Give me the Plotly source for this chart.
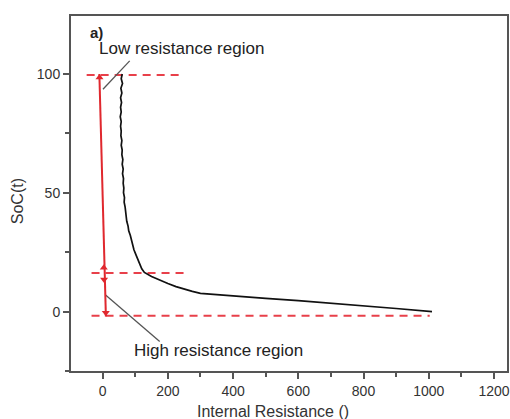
import plotly.graph_objects as go

# Measured curve: SoC vs internal resistance
res = [60, 57, 61, 56, 59, 55, 58, 55, 57, 54, 57, 55, 57, 56, 59, 57, 60, 59, 62, 60, 63,
       61, 64, 63, 65, 64, 67, 66, 69, 70, 73, 74, 78, 80, 85, 88, 93, 96, 102, 107, 114,
       120, 128, 150, 175, 200, 225, 250, 275, 300, 350, 400, 500, 600, 700, 800, 900, 1010]
soc = [100, 98, 96, 94, 92, 90, 88, 86, 84, 82, 80, 78, 76, 74, 72, 70, 68, 66, 64, 62, 60,
       58, 56, 54, 52, 50, 48, 46, 44, 42, 40, 38, 36, 34, 32, 30, 28, 26, 24, 22, 20,
       18, 16.5, 14.8, 13.2, 11.8, 10.5, 9.4, 8.5, 7.7, 7.1, 6.5, 5.6, 4.6, 3.6, 2.5, 1.3, 0]

# Red arrow line
red_x = [-10, 10]
red_y = [100, -2]
arrow_x = [-9.6, 3.6, 4.4, 9.7]
arrow_y = [98.5, 18.5, 13.5, -0.5]
arrow_sym = ["triangle-up", "triangle-up", "triangle-down", "triangle-down"]

# Dashed reference levels: (x start, x end, SoC)
dash_levels = [(-49, 248, 99.6), (-34, 266, 16.2), (-34, 1003, -1.7)]

# Pointer lines for labels
low_ptr_x = [83, 1]
low_ptr_y = [105.5, 93.6]
high_ptr_x = [9, 175]
high_ptr_y = [7, -12.6]

x_ticks = [0, 200, 400, 600, 800, 1000, 1200]
y_ticks = [0, 50, 100]

fig = go.Figure()

for x0, x1, lvl in dash_levels:
    fig.add_trace(go.Scatter(x=[x0, x1], y=[lvl, lvl], mode="lines",
                             line=dict(color="#e8404a", width=2, dash="8px,6px"),
                             showlegend=False, hoverinfo="skip"))

fig.add_trace(go.Scatter(x=low_ptr_x, y=low_ptr_y, mode="lines",
                         line=dict(color="#555555", width=1.3), showlegend=False))
fig.add_trace(go.Scatter(x=high_ptr_x, y=high_ptr_y, mode="lines",
                         line=dict(color="#555555", width=1.3), showlegend=False))

fig.add_trace(go.Scatter(x=red_x, y=red_y, mode="lines",
                         line=dict(color="#e0282e", width=2), showlegend=False))
fig.add_trace(go.Scatter(x=arrow_x, y=arrow_y, mode="markers",
                         marker=dict(symbol=arrow_sym, size=7, color="#e0282e"),
                         showlegend=False))

fig.add_trace(go.Scatter(x=res, y=soc, mode="lines",
                         line=dict(color="#111111", width=1.7), showlegend=False))

axis_common = dict(showgrid=False, zeroline=False, showline=True, linecolor="#555555",
                   linewidth=2, mirror=True, ticks="outside", ticklen=6, tickwidth=1.5,
                   tickcolor="#555555",
                   tickfont=dict(family="Liberation Sans, Arial", size=14, color="#333333"))

fig.update_xaxes(range=[-97, 1240], tickvals=x_ticks,
                 minor=dict(dtick=100, tick0=100, ticks="outside", ticklen=4,
                            tickcolor="#555555", tickwidth=1.5),
                 **axis_common)
fig.update_yaxes(range=[-25, 124.4], tickvals=y_ticks,
                 minor=dict(dtick=25, tick0=25, ticks="outside", ticklen=4,
                            tickcolor="#555555", tickwidth=1.5),
                 **axis_common)

font_ann = dict(family="Liberation Sans, Arial", size=17, color="#222222")
fig.add_annotation(x=-16, y=106, xref="x", yref="y", text="Low resistance region",
                   showarrow=False, xanchor="left", yanchor="bottom", font=font_ann)
fig.add_annotation(x=90, y=-16.5, xref="x", yref="y", text="High resistance region",
                   showarrow=False, xanchor="left", yanchor="middle", font=font_ann)
fig.add_annotation(x=-46, y=117.5, xref="x", yref="y", text="<b>a)</b>",
                   showarrow=False, xanchor="left", yanchor="middle",
                   font=dict(family="Liberation Sans, Arial", size=15, color="#222222"))
fig.add_annotation(x=522, y=-0.115, xref="x", yref="paper", text="Internal Resistance ()",
                   showarrow=False, xanchor="center", yanchor="middle",
                   font=dict(family="Liberation Sans, Arial", size=16, color="#333333"))
fig.add_annotation(x=-0.121, y=0.479, xref="paper", yref="paper", text="SoC(t)",
                   showarrow=False, textangle=-90, xanchor="center", yanchor="middle",
                   font=dict(family="Liberation Sans, Arial", size=16, color="#333333"))

fig.update_layout(width=510, height=419, margin=dict(l=71, r=1, t=16, b=48),
                  plot_bgcolor="white", paper_bgcolor="white")

fig.write_html("out.html")
